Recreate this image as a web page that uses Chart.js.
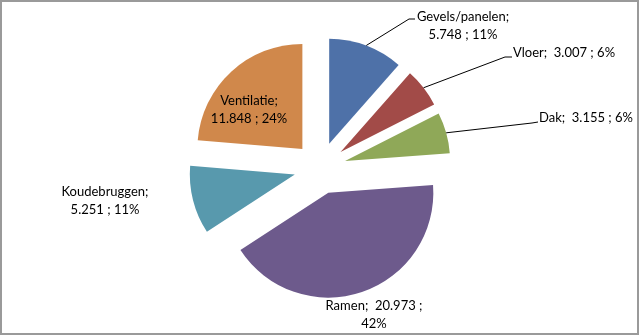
<!DOCTYPE html>
<html>
<head>
<meta charset="utf-8">
<script src="https://cdn.jsdelivr.net/npm/chart.js@4"></script>
<style>
  html, body { margin: 0; padding: 0; background: #fff; }
  canvas { display: block; }
</style>
</head>
<body>
<canvas id="chart" width="640" height="336"></canvas>
<script>
// ============================================================
// Data
// ============================================================
const categories = ["Gevels/panelen", "Vloer", "Dak", "Ramen", "Koudebruggen", "Ventilatie"];
const values = [5.748, 3.007, 3.155, 20.973, 5.251, 11.848];
const percents = ["11%", "6%", "6%", "42%", "11%", "24%"];
const valueLabels = ["5.748", "3.007", "3.155", "20.973", "5.251", "11.848"];
const colors = ["#4E71A8", "#A24B48", "#8FA858", "#6D5A8C", "#5899AD", "#D0884B"];

// label text lines per slice
const labelLines = [
  ["Gevels/panelen;", "5.748 ; 11%"],
  ["Vloer;  3.007 ; 6%"],
  ["Dak;  3.155 ; 6%"],
  ["Ramen;  20.973 ;", "42%"],
  ["Koudebruggen;", "5.251 ; 11%"],
  ["Ventilatie;", "11.848 ; 24%"],
];

// label placement (canvas coords), elbow = leader line bend point or null
const labelLayout = [
  { x: 463, y: 17, elbow: [409, 19], end: [415, 19] },
  { x: 564, y: 53, elbow: [505, 57], end: [512, 57] },
  { x: 586, y: 118, elbow: [532, 123], end: [538, 122] },
  { x: 374, y: 306, elbow: null },
  { x: 105, y: 192, elbow: null },
  { x: 249, y: 101, elbow: null },
];

const EXPLODE = 26; // distance each slice is pulled out, px

function midAngle(arc) {
  const p = arc.getProps(["startAngle", "endAngle"], true);
  return (p.startAngle + p.endAngle) / 2;
}

// ============================================================
// Plugins: exploded slices, labels, frame
// ============================================================
const explodedPie = {
  id: "explodedPie",
  beforeDatasetsDraw(chart) {
    const { ctx } = chart;
    chart.getDatasetMeta(0).data.forEach((arc) => {
      const mid = midAngle(arc);
      ctx.save();
      ctx.translate(Math.cos(mid) * EXPLODE, Math.sin(mid) * EXPLODE);
      arc.draw(ctx);
      ctx.restore();
    });
    return false; // skip default drawing
  },
};

const pieLabels = {
  id: "pieLabels",
  afterDraw(chart) {
    const { ctx } = chart;
    const arcs = chart.getDatasetMeta(0).data;
    ctx.save();
    ctx.font = "13px Lato";
    ctx.fillStyle = "#000";
    ctx.textAlign = "center";
    ctx.textBaseline = "middle";
    arcs.forEach((arc, i) => {
      const lay = labelLayout[i];
      if (lay.elbow) {
        const p = arc.getProps(["x", "y", "outerRadius"], true);
        const mid = midAngle(arc);
        const sx = p.x + Math.cos(mid) * (EXPLODE + p.outerRadius);
        const sy = p.y + Math.sin(mid) * (EXPLODE + p.outerRadius);
        ctx.beginPath();
        ctx.strokeStyle = "#000";
        ctx.lineWidth = 1;
        ctx.moveTo(sx, sy);
        ctx.lineTo(lay.elbow[0], lay.elbow[1]);
        ctx.lineTo(lay.end[0], lay.end[1]);
        ctx.stroke();
      }
      labelLines[i].forEach((line, k) => {
        ctx.fillText(line, lay.x, lay.y + k * 18);
      });
    });
    // outer frame
    ctx.strokeStyle = "#9a9a9a";
    ctx.lineWidth = 2;
    ctx.strokeRect(1, 1, 637, 333);
    ctx.restore();
  },
};

// ============================================================
// Chart
// ============================================================
new Chart(document.getElementById("chart"), {
  type: "pie",
  data: {
    labels: categories,
    datasets: [{
      data: values,
      backgroundColor: colors,
      borderWidth: 0,
    }],
  },
  options: {
    responsive: false,
    animation: false,
    radius: 105,
    layout: { padding: 0 },
    plugins: {
      legend: { display: false },
      tooltip: { enabled: false },
    },
  },
  plugins: [explodedPie, pieLabels],
});
</script>
</body>
</html>
